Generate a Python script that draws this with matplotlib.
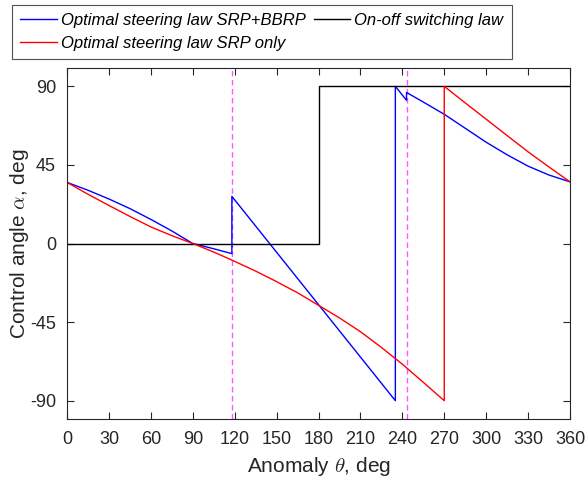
import matplotlib
matplotlib.use("Agg")
import matplotlib.pyplot as plt

plt.rcParams["font.family"] = ["Liberation Sans", "DejaVu Sans"]
plt.rcParams["mathtext.fontset"] = "cm"
plt.rcParams["axes.unicode_minus"] = False

# optimal steering law, SRP + BBRP
theta_bbrp = [0, 0, 15, 30, 45, 60, 75, 90, 104, 118, 118, 138, 160, 180, 210, 235, 235,
              243, 243, 255, 270, 285, 300, 315, 330, 345, 360]
alpha_bbrp = [90, 35, 30.5, 25.5, 20, 13.8, 7.2, 0, -2.8, -5.8, 27, 7, -15, -35, -65, -90, 90,
              82, 86.5, 81, 74, 66, 58, 50.8, 44.3, 39.2, 35.3]

# optimal steering law, SRP only
theta_srp = [0, 0, 15, 30, 45, 60, 75, 90, 105, 118, 135, 148, 165, 180, 195, 210, 225, 240,
             255, 270, 270, 285, 300, 315, 330, 345, 360]
alpha_srp = [0, 35, 28.2, 21.8, 15.5, 9.5, 4.5, 0, -4.9, -9.5, -15.8, -21, -28.2, -35.4, -42.6,
             -50.5, -59.5, -69.1, -79.5, -90, 90, 80.5, 71.2, 61.8, 52.5, 43.8, 35.3]

# on-off switching law
theta_onoff = [0, 180, 180, 360]
alpha_onoff = [0, 0, 90, 90]

# eclipse boundaries
theta_eclipse = [118, 243]

xticks = list(range(0, 361, 30))
yticks = [-90, -45, 0, 45, 90]

fig = plt.figure(figsize=(5.88, 4.83), dpi=100)
ax = fig.add_axes([67 / 588, 1 - 419 / 483, 503 / 588, 351 / 483])

for th in theta_eclipse:
    ax.axvline(th, color="#ff55ff", linestyle="--", linewidth=1.0, dashes=(4, 2.5))

l1, = ax.plot(theta_bbrp, alpha_bbrp, color="blue", linewidth=1.0,
              label="Optimal steering law SRP+BBRP")
l3, = ax.plot(theta_onoff, alpha_onoff, color="black", linewidth=1.0,
              label="On-off switching law")
l2, = ax.plot(theta_srp, alpha_srp, color="red", linewidth=1.0,
              label="Optimal steering law SRP only")

ax.set_xlim(0, 360)
ax.set_ylim(-100.5, 100.5)
ax.set_xticks(xticks)
ax.set_yticks(yticks)
ax.tick_params(direction="in", top=True, right=True, length=5, width=0.8,
               labelsize=13, colors="#262626")
ax.tick_params(axis="x", pad=9)
ax.tick_params(axis="y", pad=8)
for s in ax.spines.values():
    s.set_color("#262626")
    s.set_linewidth(0.8)

ax.set_xlabel(r"Anomaly $\theta$, deg", fontsize=15, color="#262626", labelpad=5)
ax.set_ylabel(r"Control angle $\alpha$, deg", fontsize=15, color="#262626", labelpad=-1)

leg = fig.legend(handles=[l1, l2, l3], loc="upper left",
                 bbox_to_anchor=(12 / 588, 1 - 5 / 483), borderaxespad=0, ncol=2,
                 prop={"style": "italic", "size": 12}, frameon=True, fancybox=False,
                 edgecolor="#262626", handlelength=2.2, handletextpad=0.25,
                 labelspacing=0.45, columnspacing=0.45, borderpad=0.5)
leg.get_frame().set_linewidth(0.8)

fig.savefig("out.png", dpi=100)
